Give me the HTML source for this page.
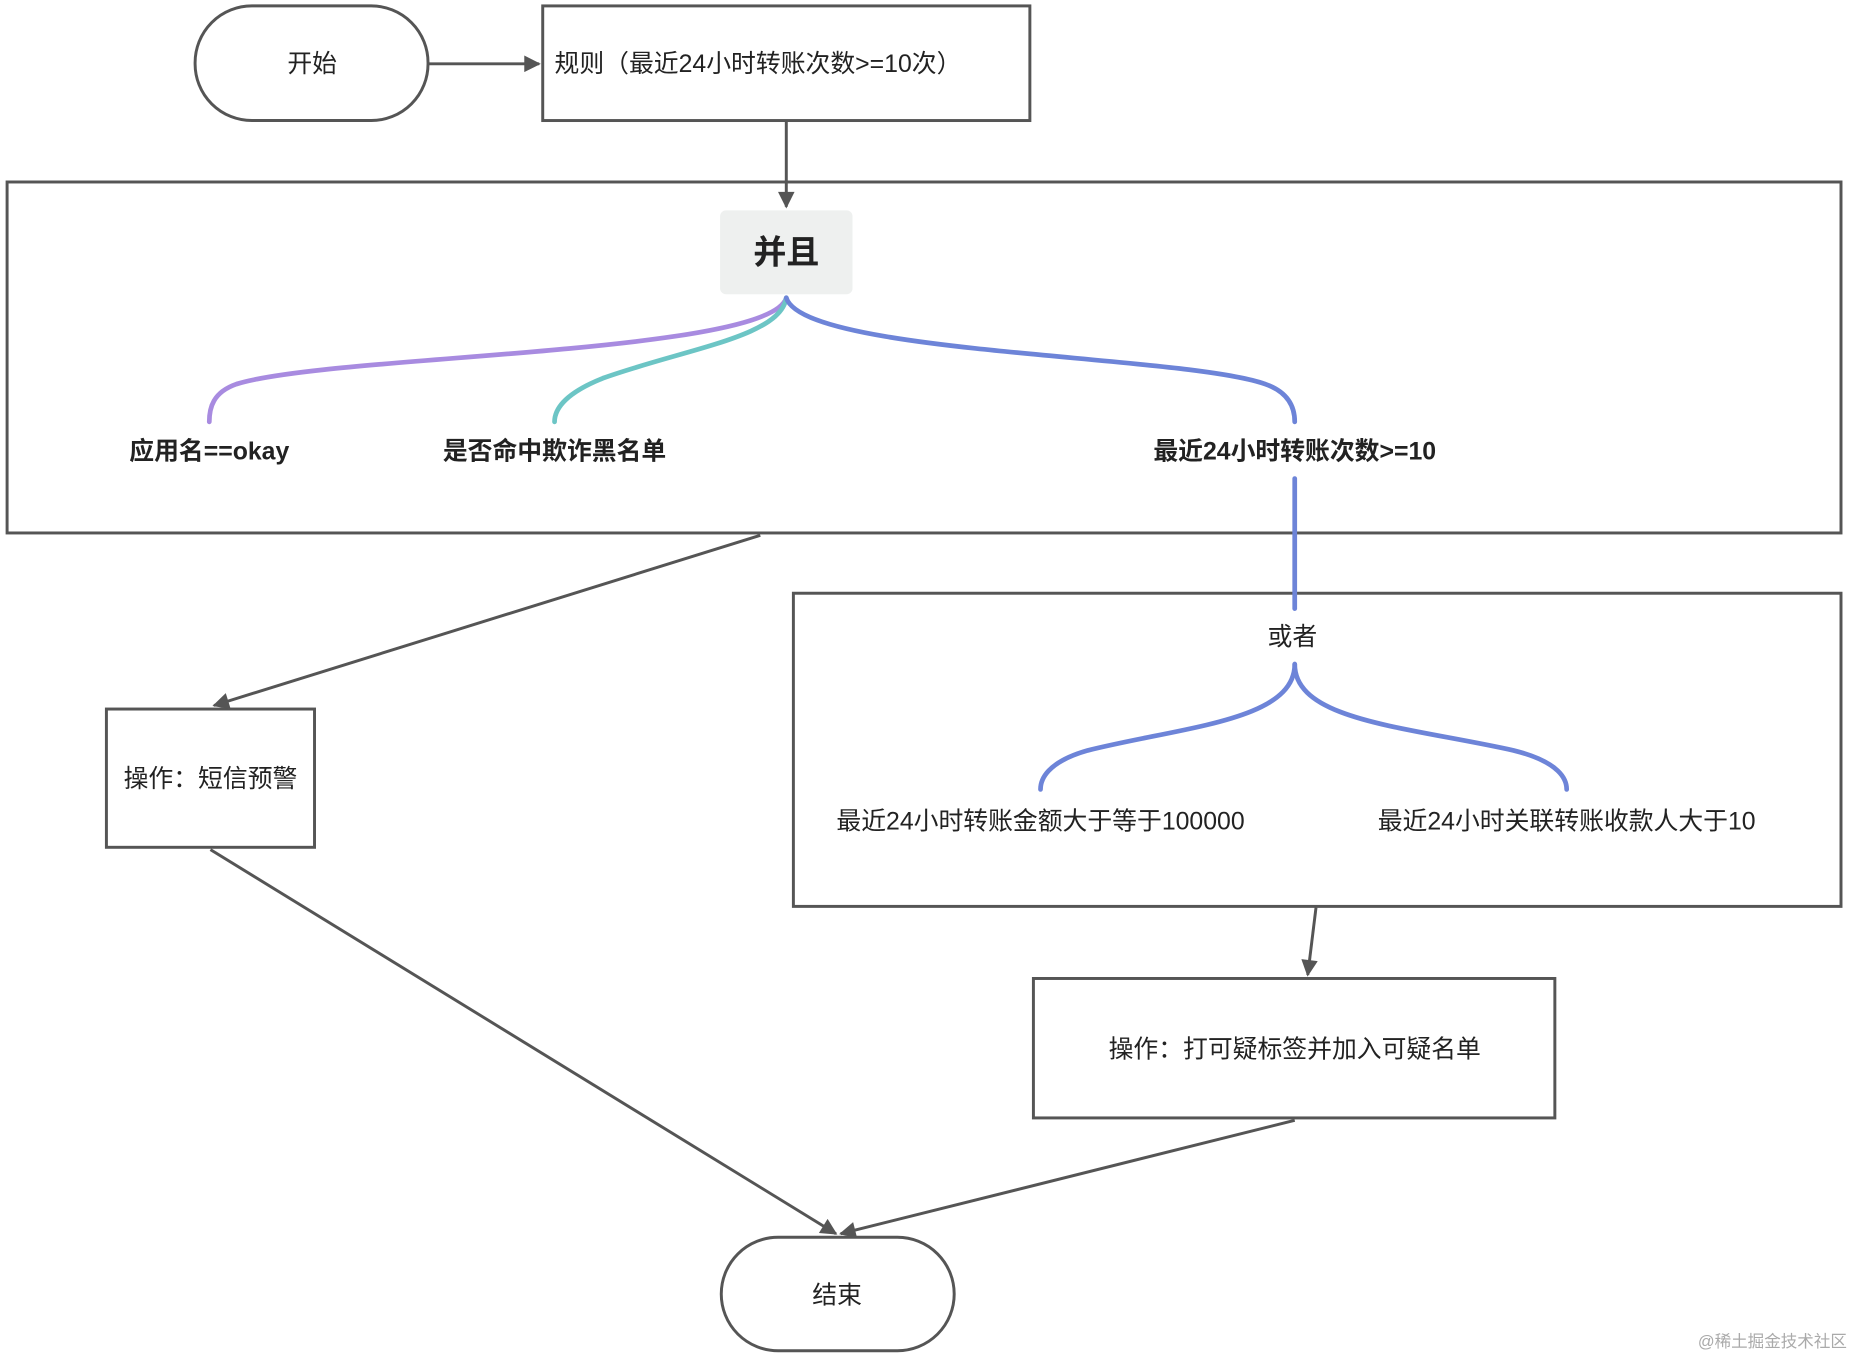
<!DOCTYPE html>
<html><head><meta charset="utf-8">
<style>
html,body{margin:0;padding:0;background:#fff;}
svg{display:block;}
text{font-family:"Liberation Sans","Noto Sans CJK SC",sans-serif;fill:#222;}
</style></head>
<body>
<svg width="1854" height="1359" viewBox="0 0 1568 1150" preserveAspectRatio="none" xmlns="http://www.w3.org/2000/svg">
<defs>
<marker id="ar" viewBox="0 0 10 10" refX="9" refY="5" markerWidth="7" markerHeight="7" markerUnits="userSpaceOnUse" orient="auto">
<path d="M0,0 L10,5 L0,10 z" fill="#555"/>
</marker>
<marker id="ab" viewBox="0 0 10 10" refX="9" refY="5" markerWidth="18" markerHeight="14" markerUnits="userSpaceOnUse" orient="auto">
<path d="M0,0 L10,5 L0,10 z" fill="#555"/>
</marker>
</defs>
<g fill="none" stroke="#555" stroke-width="2.5">
<rect x="165" y="5" width="197" height="97" rx="48"/>
<rect x="459" y="5" width="412" height="97"/>
<rect x="6" y="154" width="1551" height="297"/>
<rect x="671" y="502" width="886" height="265"/>
<rect x="90" y="600" width="176" height="117"/>
<rect x="874" y="828" width="441" height="118"/>
<rect x="610" y="1047" width="197" height="96" rx="48"/>
<line x1="362" y1="54" x2="456" y2="54" marker-end="url(#ab)"/>
<line x1="665" y1="102" x2="665" y2="175" marker-end="url(#ab)"/>
<line x1="643" y1="453" x2="181" y2="597" marker-end="url(#ab)"/>
<line x1="178" y1="719" x2="707" y2="1044" marker-end="url(#ab)"/>
<line x1="1113" y1="768" x2="1106" y2="825" marker-end="url(#ab)"/>
<line x1="1095" y1="948" x2="711" y2="1044" marker-end="url(#ab)"/>
</g>
<rect x="609" y="178" width="112" height="71" rx="5" fill="#eef0ef"/>
<g fill="none" stroke-width="4" stroke-linecap="round">
<path d="M665,252 C650,300 280,300 200,325 C180,332 177,345 177,357" stroke="#a88be0"/>
<path d="M665,252 C660,285 580,295 510,320 C480,332 469,345 469,357" stroke="#6cc5c5"/>
<path d="M665,252 C680,300 1000,300 1070,325 C1090,332 1095,345 1095,357" stroke="#6d84d8"/>
<path d="M1095,405 L1095,515" stroke="#6d84d8"/>
<path d="M1095,562 C1095,610 1000,615 920,635 C885,645 880,660 880,668" stroke="#6d84d8"/>
<path d="M1095,562 C1095,610 1190,615 1280,635 C1320,645 1325,660 1325,668" stroke="#6d84d8"/>
</g>
<text x="264" y="61" font-size="21" text-anchor="middle">开始</text>
<text x="469" y="61" font-size="21">规则（最近24小时转账次数&gt;=10次）</text>
<text x="665" y="223" font-size="28" font-weight="bold" text-anchor="middle">并且</text>
<text x="177" y="389" font-size="21" font-weight="bold" text-anchor="middle">应用名==okay</text>
<text x="469" y="389" font-size="21" font-weight="bold" text-anchor="middle">是否命中欺诈黑名单</text>
<text x="1095" y="389" font-size="21" font-weight="bold" text-anchor="middle">最近24小时转账次数&gt;=10</text>
<text x="1093" y="546" font-size="21" text-anchor="middle">或者</text>
<text x="880" y="702" font-size="21" text-anchor="middle">最近24小时转账金额大于等于100000</text>
<text x="1325" y="702" font-size="21" text-anchor="middle">最近24小时关联转账收款人大于10</text>
<text x="178" y="666" font-size="21" text-anchor="middle">操作：短信预警</text>
<text x="1095" y="895" font-size="21" text-anchor="middle">操作：打可疑标签并加入可疑名单</text>
<text x="708" y="1103" font-size="21" text-anchor="middle">结束</text>
<text x="1562" y="1140" font-size="14" text-anchor="end" style="fill:#aaa">@稀土掘金技术社区</text>
</svg>
</body></html>
